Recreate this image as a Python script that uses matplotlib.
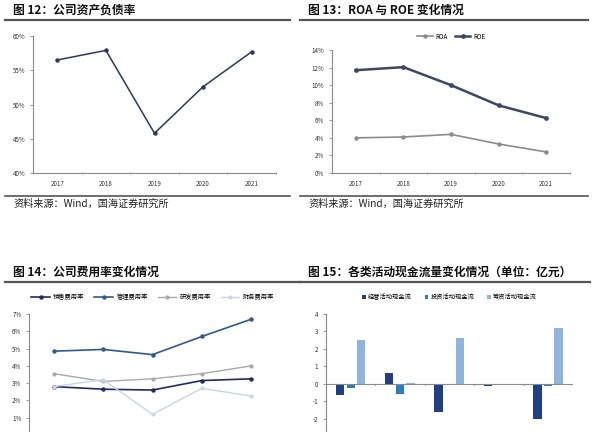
import matplotlib
matplotlib.use('Agg')
import matplotlib.pyplot as plt
import numpy as np

plt.rcParams['font.family'] = ['Noto Sans CJK SC', 'DejaVu Sans']
plt.rcParams['axes.unicode_minus'] = False

# 数据
years = ['2017', '2018', '2019', '2020', '2021']
debt_ratio = [56.5, 57.9, 45.8, 52.6, 57.7]
roa = [4.0, 4.1, 4.4, 3.3, 2.4]
roe = [11.7, 12.05, 10.0, 7.7, 6.25]
sales_rate = [2.8, 2.65, 2.6, 3.15, 3.25]
admin_rate = [4.85, 4.95, 4.65, 5.7, 6.7]
rd_rate = [3.55, 3.1, 3.25, 3.55, 4.0]
fin_rate = [2.8, 3.2, 1.2, 2.7, 2.25]
cf_operating = [-0.65, 0.6, -1.6, -0.15, -2.05]
cf_investing = [-0.25, -0.6, -0.1, -0.08, -0.15]
cf_financing = [2.5, 0.02, 2.6, -0.02, 3.2]

fig = plt.figure(figsize=(6, 4.32), dpi=100)
W, H = 600.0, 432.0


def fx(px):
    return px / W


def fy(py):
    return 1 - py / H


def header(x0, x1, ytext, yline, title):
    fig.text(fx(x0 + 8), fy(ytext), title, fontsize=8.5, fontweight='bold',
             va='center', ha='left', color='#111111')
    fig.add_artist(plt.Line2D([fx(x0), fx(x1)], [fy(yline), fy(yline)],
                              color='#555555', lw=1.6))


def source(x0, x1, yline, ytext):
    fig.add_artist(plt.Line2D([fx(x0), fx(x1)], [fy(yline), fy(yline)],
                              color='#555555', lw=1.2))
    fig.text(fx(x0 + 8), fy(ytext), '资料来源：Wind，国海证券研究所', fontsize=7.3,
             va='center', ha='left', color='#222222')


def style_axes(ax, show_years=True):
    for s in ['top', 'right']:
        ax.spines[s].set_visible(False)
    for s in ['left', 'bottom']:
        ax.spines[s].set_color('#8a8a8a')
        ax.spines[s].set_linewidth(0.8)
    ax.tick_params(axis='both', labelsize=4.5, colors='#8a8a8a', labelcolor='#333333',
                   length=2, width=0.6)
    ax.set_xlim(-0.5, 4.5)
    ax.set_xticks(np.arange(5))
    ax.set_xticklabels(years if show_years else [])
    ax.tick_params(axis='x', which='major', length=0, pad=5)
    ax.set_xticks(np.arange(-0.5, 5, 1), minor=True)
    ax.tick_params(axis='x', which='minor', length=2, width=0.6, colors='#8a8a8a',
                   direction='inout')


def pct_fmt(v, pos):
    return f'{v:.0f}%'


x = np.arange(5)

# 图12
header(5, 290, 10, 20, '图 12：公司资产负债率')
ax1 = fig.add_axes([fx(33), fy(173), fx(276 - 33), (173 - 36) / H])
ax1.plot(x, debt_ratio, color='#2B3766', lw=1.1, marker='o', ms=2.2)
ax1.set_ylim(40, 60)
ax1.set_yticks([40, 45, 50, 55, 60])
ax1.yaxis.set_major_formatter(matplotlib.ticker.FuncFormatter(pct_fmt))
style_axes(ax1)
source(5, 290, 196, 204)

# 图13
header(300, 588, 10, 20, '图 13：ROA 与 ROE 变化情况')
ax2 = fig.add_axes([fx(332), fy(173), fx(570 - 332), (173 - 50) / H])
ax2.plot(x, roa, color='#8C8C8C', lw=1.2, marker='o', ms=2.2, label='ROA')
ax2.plot(x, roe, color='#3A4868', lw=1.8, marker='o', ms=2.4, label='ROE')
ax2.set_ylim(0, 14)
ax2.set_yticks(np.arange(0, 15, 2))
ax2.yaxis.set_major_formatter(matplotlib.ticker.FuncFormatter(pct_fmt))
style_axes(ax2)
ax2.legend(loc='lower center', bbox_to_anchor=(0.5, 1.03), ncol=2, frameon=False,
           fontsize=4.5, handlelength=2.5, columnspacing=1.2, handletextpad=0.4)
source(300, 588, 196, 204)

# 图14 (下半部分被裁切)
header(5, 300, 272, 282, '图 14：公司费用率变化情况')
ax3 = fig.add_axes([fx(29), fy(435), fx(276 - 29), (435 - 314) / H])
ax3.plot(x, sales_rate, color='#1F2A66', lw=1.2, marker='o', ms=2.2, label='销售费用率')
ax3.plot(x, admin_rate, color='#2E5A94', lw=1.2, marker='o', ms=2.2, label='管理费用率')
ax3.plot(x, rd_rate, color='#A9A9A9', lw=1.0, marker='o', ms=2.0, label='研发费用率')
ax3.plot(x, fin_rate, color='#C6D6EC', lw=1.0, marker='o', ms=2.0, label='财务费用率')
ax3.set_ylim(0, 7)
ax3.set_yticks(np.arange(1, 8, 1))
ax3.yaxis.set_major_formatter(matplotlib.ticker.FuncFormatter(pct_fmt))
style_axes(ax3, show_years=False)
ax3.legend(loc='lower center', bbox_to_anchor=(0.5, 1.06), ncol=4, frameon=False,
           fontsize=4.5, handlelength=3, columnspacing=1.6, handletextpad=0.5)

# 图15
header(300, 590, 272, 282, '图 15：各类活动现金流量变化情况（单位：亿元）')
ax4 = fig.add_axes([fx(326), fy(436), fx(573 - 326), (436 - 314) / H])
bw = 0.17
ax4.bar(x - 0.22, cf_operating, width=bw, color='#1F3F86', label='经营活动现金流')
ax4.bar(x, cf_investing, width=bw, color='#2B7CC4', label='投资活动现金流')
ax4.bar(x + 0.21, cf_financing, width=bw, color='#8FB4DF', label='筹资活动现金流')
ax4.set_ylim(-3, 4)
ax4.set_yticks(np.arange(-2, 5, 1))
style_axes(ax4, show_years=False)
ax4.spines['bottom'].set_visible(False)
ax4.axhline(0, color='#8a8a8a', lw=0.8)
for b in np.arange(0.5, 4.5, 1):
    ax4.plot([b, b], [0, -0.08], color='#8a8a8a', lw=0.6)
ax4.tick_params(axis='x', which='minor', length=0)
ax4.legend(loc='lower center', bbox_to_anchor=(0.5, 1.06), ncol=3, frameon=False,
           fontsize=4.5, handlelength=0.6, handleheight=0.6, columnspacing=2.0,
           handletextpad=0.4)

fig.savefig('out.png', dpi=100)
